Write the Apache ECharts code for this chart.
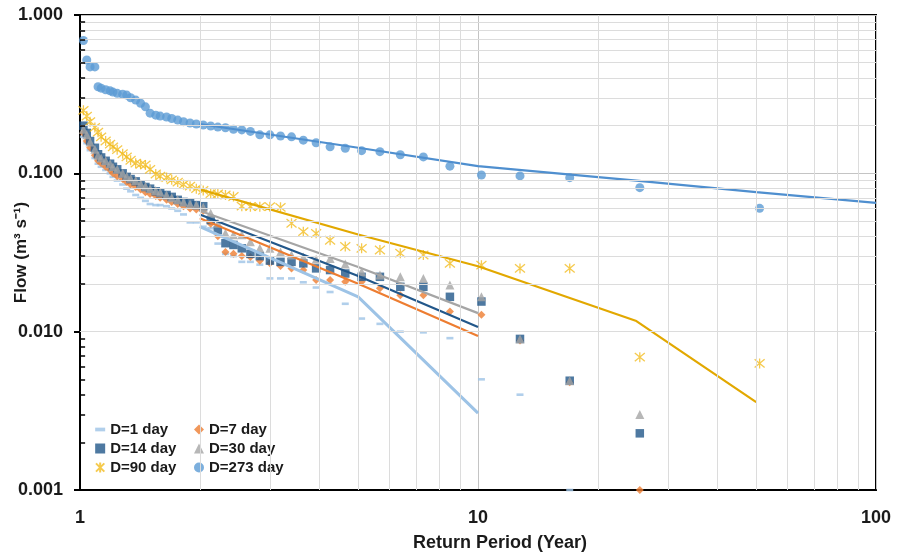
<!DOCTYPE html>
<html>
<head>
<meta charset="utf-8">
<script src="https://cdn.jsdelivr.net/npm/echarts@6/dist/echarts.min.js"></script>
<style>
html,body{margin:0;padding:0;background:#fff;}
#chart{width:898px;height:555px;}
</style>
</head>
<body>
<div id="chart"></div>
<script>
// Return periods (Year), rank 1..50
const returnPeriod = [51, 25.5, 17, 12.75, 10.2, 8.5, 7.29, 6.38, 5.67, 5.1, 4.64, 4.25, 3.92, 3.64, 3.4, 3.19, 3.0, 2.83, 2.68, 2.55, 2.43, 2.32, 2.22, 2.13, 2.04, 1.96, 1.89, 1.82, 1.76, 1.7, 1.65, 1.59, 1.55, 1.5, 1.46, 1.42, 1.38, 1.34, 1.31, 1.28, 1.24, 1.21, 1.19, 1.16, 1.13, 1.11, 1.09, 1.06, 1.04, 1.02];

const flowD1 = [null, null, 0.001, 0.0040, 0.0050, 0.0091, 0.0099, 0.0100, 0.0112, 0.0121, 0.0150, 0.0178, 0.0190, 0.0205, 0.0217, 0.0217, 0.0217, 0.0265, 0.0276, 0.0276, 0.030, 0.031, 0.036, 0.045, 0.046, 0.049, 0.049, 0.055, 0.058, 0.060, 0.062, 0.063, 0.063, 0.064, 0.067, 0.070, 0.073, 0.077, 0.080, 0.085, 0.090, 0.095, 0.100, 0.105, 0.110, 0.115, 0.125, 0.140, 0.155, 0.170];
const flowD7 = [null, 0.001, 0.0048, 0.0088, 0.0128, 0.0134, 0.017, 0.017, 0.0188, 0.0207, 0.0207, 0.0212, 0.0212, 0.0245, 0.0251, 0.026, 0.027, 0.028, 0.0296, 0.030, 0.031, 0.0318, 0.040, 0.048, 0.058, 0.059, 0.060, 0.062, 0.064, 0.066, 0.068, 0.070, 0.072, 0.074, 0.076, 0.079, 0.082, 0.085, 0.088, 0.092, 0.096, 0.100, 0.105, 0.110, 0.116, 0.120, 0.130, 0.145, 0.160, 0.179];
const flowD14 = [null, 0.00228, 0.0049, 0.0090, 0.0155, 0.0166, 0.0192, 0.0192, 0.0222, 0.0222, 0.0233, 0.0245, 0.0251, 0.027, 0.0276, 0.0276, 0.0281, 0.030, 0.031, 0.0336, 0.0353, 0.0362, 0.0438, 0.0507, 0.062, 0.063, 0.065, 0.066, 0.068, 0.071, 0.073, 0.075, 0.077, 0.080, 0.082, 0.085, 0.089, 0.092, 0.095, 0.100, 0.106, 0.110, 0.115, 0.120, 0.126, 0.132, 0.145, 0.160, 0.180, 0.200];
const flowD30 = [null, 0.0030, 0.0049, 0.0090, 0.0166, 0.0197, 0.0217, 0.0222, 0.0228, 0.0239, 0.0268, 0.029, 0.0287, 0.0296, 0.0305, 0.0318, 0.0336, 0.0336, 0.037, 0.0409, 0.0409, 0.0418, 0.0484, 0.056, 0.061, 0.063, 0.064, 0.066, 0.068, 0.070, 0.073, 0.076, 0.078, 0.080, 0.083, 0.086, 0.090, 0.093, 0.096, 0.100, 0.106, 0.110, 0.115, 0.120, 0.125, 0.130, 0.142, 0.158, 0.175, 0.190];
const flowD90 = [0.0063, 0.0069, 0.0251, 0.0251, 0.0263, 0.027, 0.0305, 0.0313, 0.0328, 0.0336, 0.0345, 0.0378, 0.0418, 0.0428, 0.0484, 0.061, 0.0616, 0.0616, 0.0616, 0.062, 0.0714, 0.073, 0.074, 0.0745, 0.078, 0.080, 0.083, 0.085, 0.088, 0.091, 0.094, 0.096, 0.099, 0.106, 0.113, 0.114, 0.116, 0.121, 0.127, 0.133, 0.141, 0.147, 0.153, 0.160, 0.170, 0.182, 0.195, 0.212, 0.230, 0.250];
const flowD273 = [0.0601, 0.0812, 0.0939, 0.0963, 0.0976, 0.111, 0.127, 0.131, 0.137, 0.139, 0.144, 0.147, 0.156, 0.162, 0.170, 0.172, 0.175, 0.175, 0.184, 0.188, 0.190, 0.194, 0.196, 0.199, 0.202, 0.205, 0.208, 0.212, 0.217, 0.222, 0.227, 0.230, 0.233, 0.240, 0.263, 0.277, 0.290, 0.300, 0.312, 0.316, 0.320, 0.326, 0.332, 0.337, 0.345, 0.352, 0.470, 0.470, 0.520, 0.690];

// Fitted frequency curves
const fitPeriodShort = [2, 5, 10];
const fitPeriod90 = [2, 5, 10, 25, 50];
const fitPeriod273 = [2, 5, 10, 25, 50, 100];
const fitD1 = [0.046, 0.0166, 0.00306];
const fitD7 = [0.052, 0.0201, 0.00938];
const fitD14 = [0.055, 0.0225, 0.0107];
const fitD30 = [0.058, 0.0256, 0.0131];
const fitD90 = [0.0792, 0.0411, 0.0259, 0.01167, 0.00359];
const fitD273 = [0.205, 0.145, 0.111, 0.090, 0.076, 0.065];

// Gridline values
const xMinorGrid = [2, 3, 4, 5, 6, 7, 8, 9, 20, 30, 40, 50, 60, 70, 80, 90];
const yMinorGrid = [0.002, 0.003, 0.004, 0.005, 0.006, 0.007, 0.008, 0.009, 0.02, 0.03, 0.04, 0.05, 0.06, 0.07, 0.08, 0.09, 0.2, 0.3, 0.4, 0.5, 0.6, 0.7, 0.8, 0.9];

function pairs(xs, ys) {
  const out = [];
  for (let i = 0; i < ys.length; i++) if (ys[i] != null) out.push([xs[i], ys[i]]);
  return out;
}

const FONT = '"Liberation Sans", Arial, sans-serif';
const asterisk = 'path://M0,0 L10,10 M10,0 L0,10 M5,-1 L5,11';

const chart = echarts.init(document.getElementById('chart'), null, {renderer: 'canvas'});

const option = {
  animation: false,
  backgroundColor: '#fff',
  grid: {left: 80, right: 22, top: 15, bottom: 65, show: true, borderColor: '#000', borderWidth: 2,
    backgroundColor: 'transparent', containLabel: false, outerBoundsMode: 'none'},
  xAxis: {
    type: 'log', logBase: 10, min: 1, max: 100,
    name: 'Return Period (Year)', nameLocation: 'middle', nameGap: 44, nameMoveOverlap: false,
    nameTextStyle: {fontFamily: FONT, fontSize: 18, fontWeight: 'bold', color: '#1a1a1a', padding: [0, 0, 0, 44]},
    axisLine: {show: true, lineStyle: {color: '#000', width: 2}},
    axisTick: {show: false},
    axisLabel: {fontFamily: FONT, fontSize: 18, fontWeight: 'bold', color: '#1a1a1a', margin: 19},
    splitLine: {show: true, lineStyle: {color: '#C4C4C4', width: 1}}
  },
  yAxis: {
    type: 'log', logBase: 10, min: 0.001, max: 1,
    name: 'Flow (m³ s⁻¹)', nameLocation: 'middle', nameGap: 50, nameRotate: 90, nameMoveOverlap: false,
    nameTextStyle: {fontFamily: FONT, fontSize: 17, fontWeight: 'bold', color: '#1a1a1a'},
    axisLine: {show: true, lineStyle: {color: '#000', width: 2}},
    axisTick: {show: true, length: 6, lineStyle: {color: '#000', width: 2}},
    axisLabel: {fontFamily: FONT, fontSize: 18, fontWeight: 'bold', color: '#1a1a1a', margin: 17,
      formatter: v => Number(v).toFixed(3)},
    splitLine: {show: true, lineStyle: {color: '#C4C4C4', width: 1}}
  },
  legend: [
    {
      data: [
        {name: 'D=1 day', icon: 'path://M0,0 L7,0 L7,2.6 L0,2.6 Z'},
        {name: 'D=14 day'},
        {name: 'D=90 day'}
      ],
      orient: 'vertical', left: 89, top: 417, padding: [5, 24, 6, 6],
      itemWidth: 10, itemHeight: 10, itemGap: 4,
      backgroundColor: '#fff',
      textStyle: {fontFamily: FONT, fontSize: 15, fontWeight: 'bold', color: '#1a1a1a', lineHeight: 15}
    },
    {
      data: ['D=7 day', 'D=30 day', 'D=273 day'],
      orient: 'vertical', left: 188, top: 417, padding: [5, 10, 6, 6],
      itemWidth: 10, itemHeight: 10, itemGap: 4,
      backgroundColor: '#fff',
      textStyle: {fontFamily: FONT, fontSize: 15, fontWeight: 'bold', color: '#1a1a1a', lineHeight: 15}
    }
  ],
  series: [
    {
      name: 'grid-minor', type: 'line', data: [[1, 1]], showSymbol: false, silent: true, z: 0,
      lineStyle: {opacity: 0},
      markLine: {
        silent: true, symbol: ['none', 'none'], label: {show: false}, animation: false,
        lineStyle: {color: '#DCDCDC', width: 1, type: 'solid'},
        data: xMinorGrid.map(v => ({xAxis: v})).concat(yMinorGrid.map(v => ({yAxis: v})))
      }
    },
    {
      name: 'tick-minor', type: 'line', data: [[1, 1]], showSymbol: false, silent: true, z: 1,
      lineStyle: {opacity: 0},
      markLine: {
        silent: true, symbol: ['none', 'none'], label: {show: false}, animation: false,
        lineStyle: {color: '#000', width: 1.5, type: 'solid'},
        data: yMinorGrid.map(v => [{coord: [1, v]}, {coord: [1.03, v]}])
      }
    },
    {name: 'D=1 day', type: 'scatter', data: pairs(returnPeriod, flowD1), symbol: 'rect', symbolSize: [7, 2.6],
      itemStyle: {color: '#9DC3E6'}, z: 2},
    {name: 'D=7 day', type: 'scatter', data: pairs(returnPeriod, flowD7), symbol: 'diamond', symbolSize: 8,
      itemStyle: {color: '#ED7D31'}, z: 2},
    {name: 'D=14 day', type: 'scatter', data: pairs(returnPeriod, flowD14), symbol: 'rect', symbolSize: 8.5,
      itemStyle: {color: '#22578A'}, z: 2},
    {name: 'D=30 day', type: 'scatter', data: pairs(returnPeriod, flowD30), symbol: 'triangle', symbolSize: 9,
      itemStyle: {color: '#A5A5A5'}, z: 2},
    {name: 'D=90 day', type: 'scatter', data: pairs(returnPeriod, flowD90), symbol: asterisk, symbolSize: 10,
      itemStyle: {color: 'rgba(0,0,0,0)', borderColor: '#F3BD22', borderWidth: 1.3}, z: 2},
    {name: 'D=273 day', type: 'scatter', data: pairs(returnPeriod, flowD273), symbol: 'circle', symbolSize: 9,
      itemStyle: {color: '#5B9BD5'}, z: 2},
    {name: 'fit D=1', type: 'line', data: pairs(fitPeriodShort, fitD1), showSymbol: false, silent: true, z: 3,
      lineStyle: {color: '#9DC3E6', width: 3}},
    {name: 'fit D=7', type: 'line', data: pairs(fitPeriodShort, fitD7), showSymbol: false, silent: true, z: 3,
      lineStyle: {color: '#ED7D31', width: 2.2}},
    {name: 'fit D=14', type: 'line', data: pairs(fitPeriodShort, fitD14), showSymbol: false, silent: true, z: 3,
      lineStyle: {color: '#22578A', width: 2.2}},
    {name: 'fit D=30', type: 'line', data: pairs(fitPeriodShort, fitD30), showSymbol: false, silent: true, z: 3,
      lineStyle: {color: '#A5A5A5', width: 2.2}},
    {name: 'fit D=90', type: 'line', data: pairs(fitPeriod90, fitD90), showSymbol: false, silent: true, z: 3,
      lineStyle: {color: '#E2A800', width: 2.2}},
    {name: 'fit D=273', type: 'line', data: pairs(fitPeriod273, fitD273), showSymbol: false, silent: true, z: 3,
      lineStyle: {color: '#4F8FCF', width: 2.2}}
  ]
};
chart.setOption(option);
</script>
</body>
</html>
